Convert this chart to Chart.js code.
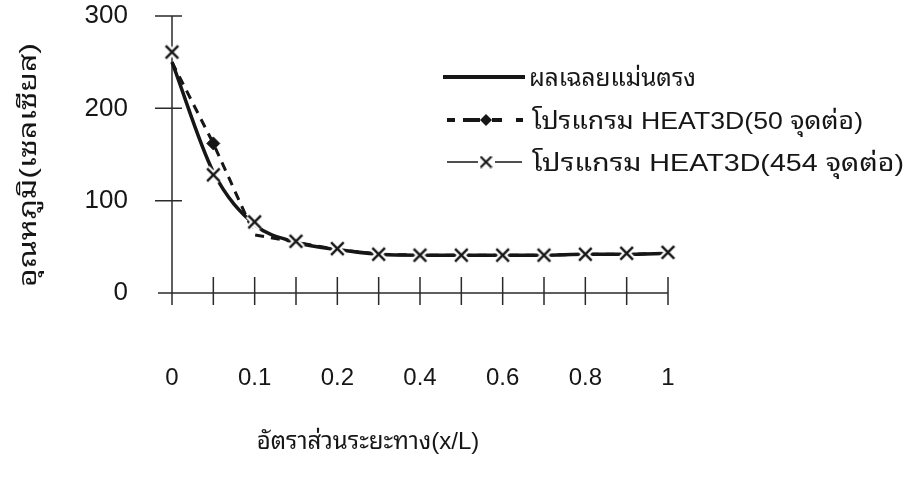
<!DOCTYPE html>
<html>
<head>
<meta charset="utf-8">
<script src="https://cdn.jsdelivr.net/npm/chart.js@4.4.1/dist/chart.umd.min.js"></script>
<style>
  html, body { margin: 0; padding: 0; background: #ffffff; }
  #wrap { width: 915px; height: 480px; position: relative; }
</style>
</head>
<body>
<div id="wrap"><canvas id="c" width="915" height="480"></canvas></div>
<script>
// Distance ratio x/L (category positions along the bar)
const xCategories = ['0', '0.05', '0.1', '0.15', '0.2', '0.3', '0.4', '0.5', '0.6', '0.7', '0.8', '0.9', '1'];
// Labels printed under the axis (every other category)
const xTickLabels = ['0', '', '0.1', '', '0.2', '', '0.4', '', '0.6', '', '0.8', '', '1'];
const yTickValues = [0, 100, 200, 300];

// Temperature (°C)
const exactSolution = [250, 131, 74, 55, 47, 42, 41, 41, 41, 41, 42, 42, 43];
const heat3d50 = [250, 162, 63, 55, 47, 42, 41, 41, 41, 41, 42, 42, 43];
const heat3d454 = [261, 128, 77, 56, 48, 42, 41, 41, 41, 41, 42, 43, 44];

const seriesNames = [
  'ผลเฉลยแม่นตรง',
  'โปรแกรม HEAT3D(50 จุดต่อ)',
  'โปรแกรม HEAT3D(454 จุดต่อ)'
];
const xTitle = 'อัตราส่วนระยะทาง(x/L)';
const yTitle = 'อุณหภูมิ(เซลเซียส)';

const FONT = "'Liberation Sans', Arial, 'Noto Sans Thai Looped', Loma, Garuda, 'Noto Sans Thai', 'Noto Sans', sans-serif";
const INK = '#161616';

// Cross marker with a white halo so lines break around it
function makeCross(half, width, halo) {
  const s = Math.ceil(2 * (half + halo)) + 2;
  const cv = document.createElement('canvas');
  cv.width = s; cv.height = s;
  const g = cv.getContext('2d');
  const c = s / 2;
  const strokeX = () => {
    g.beginPath();
    g.moveTo(c - half, c - half); g.lineTo(c + half, c + half);
    g.moveTo(c + half, c - half); g.lineTo(c - half, c + half);
    g.stroke();
  };
  if (halo > 0) { g.strokeStyle = '#ffffff'; g.lineWidth = width + 2 * halo; strokeX(); }
  g.strokeStyle = INK; g.lineWidth = width; strokeX();
  return cv;
}
const crossMarker = makeCross(6.3, 2.4, 2.2);
const legendCross = makeCross(5.5, 2.2, 0);

// Text drawn in a wide face: stretched along its baseline to a set width
function fillWide(ctx, text, x, y, width) {
  const w = ctx.measureText(text).width;
  ctx.save();
  ctx.translate(x, y);
  ctx.scale(width / w, 1);
  ctx.fillText(text, 0, 0);
  ctx.restore();
}

// Axis lines with ticks that cross the axis
const axesPlugin = {
  id: 'crossAxes',
  beforeDatasetsDraw(chart) {
    const { ctx, scales: { x, y } } = chart;
    const x0 = x.getPixelForValue(0);
    const xEnd = x.getPixelForValue(xCategories.length - 1);
    const y0 = y.getPixelForValue(0);
    const yTop = y.getPixelForValue(300);
    ctx.save();
    ctx.strokeStyle = '#2b2b2b';
    ctx.lineWidth = 1.5;
    ctx.beginPath();
    ctx.moveTo(x0, yTop); ctx.lineTo(x0, y0 + 12);
    ctx.moveTo(x0 - 14, y0); ctx.lineTo(xEnd, y0);
    yTickValues.forEach(v => {
      if (v === 0) return;
      const py = y.getPixelForValue(v);
      ctx.moveTo(x0 - 17, py); ctx.lineTo(x0 + 10, py);
    });
    for (let i = 1; i < xCategories.length; i++) {
      const px = x.getPixelForValue(i);
      ctx.moveTo(px, y0 - 16); ctx.lineTo(px, y0 + 12);
    }
    ctx.stroke();
    ctx.restore();
  }
};

// Axis titles and the legend block
const textPlugin = {
  id: 'titlesAndLegend',
  afterDraw(chart) {
    const { ctx } = chart;
    ctx.save();
    ctx.fillStyle = INK;
    ctx.textBaseline = 'middle';
    ctx.textAlign = 'center';
    ctx.font = '24px ' + FONT;
    ctx.fillText(xTitle, 368, 442);
    ctx.save();
    ctx.translate(29, 165);
    ctx.rotate(-Math.PI / 2);
    fillWide(ctx, yTitle, 0, 0, 244);
    ctx.restore();

    // legend samples
    const rows = [77, 120, 162];
    ctx.strokeStyle = INK;
    ctx.fillStyle = INK;
    // solid
    ctx.lineWidth = 4;
    ctx.beginPath(); ctx.moveTo(443, rows[0]); ctx.lineTo(525, rows[0]); ctx.stroke();
    // dashed + diamond
    ctx.beginPath();
    [[447, 455], [463, 480], [492, 502], [516, 523]].forEach(([a, b]) => {
      ctx.moveTo(a, rows[1]); ctx.lineTo(b, rows[1]);
    });
    ctx.stroke();
    ctx.beginPath();
    ctx.moveTo(486, rows[1] - 6); ctx.lineTo(492, rows[1]); ctx.lineTo(486, rows[1] + 6); ctx.lineTo(480, rows[1]);
    ctx.closePath(); ctx.fill();
    // thin line + cross
    ctx.lineWidth = 1.3;
    ctx.beginPath();
    ctx.moveTo(447, rows[2]); ctx.lineTo(478, rows[2]);
    ctx.moveTo(495, rows[2]); ctx.lineTo(522, rows[2]);
    ctx.stroke();
    ctx.drawImage(legendCross, 486 - legendCross.width / 2, rows[2] - legendCross.height / 2);

    ctx.textAlign = 'left';
    ctx.font = '24px ' + FONT;
    const textStart = [529, 532, 532];
    const textWidth = [167, 331, 372];
    seriesNames.forEach((name, i) => fillWide(ctx, name, textStart[i], rows[i] + 2, textWidth[i]));
    ctx.restore();
  }
};

new Chart(document.getElementById('c'), {
  type: 'line',
  data: {
    labels: xCategories,
    datasets: [
      {
        label: seriesNames[2],
        data: heat3d454,
        showLine: false,
        pointStyle: crossMarker,
        pointRadius: 7,
        pointHoverRadius: 7,
        order: 0,
        clip: false
      },
      {
        label: seriesNames[1],
        data: heat3d50,
        borderColor: INK,
        backgroundColor: INK,
        borderWidth: 3,
        borderDash: [9, 7],
        tension: 0,
        pointStyle: 'rectRot',
        pointRadius: heat3d50.map((v, i) => (i === 1 ? 6.5 : 0)),
        pointBorderWidth: 1,
        order: 1,
        clip: false
      },
      {
        label: seriesNames[0],
        data: exactSolution,
        borderColor: INK,
        borderWidth: 3.5,
        cubicInterpolationMode: 'monotone',
        pointRadius: 0,
        order: 2,
        clip: false
      }
    ]
  },
  options: {
    responsive: false,
    animation: false,
    events: [],
    layout: { padding: { top: 16, right: 247, bottom: 0, left: 0 } },
    plugins: { legend: { display: false }, tooltip: { enabled: false } },
    scales: {
      x: {
        type: 'category',
        offset: false,
        grid: { display: false, drawTicks: true, tickLength: 71 },
        border: { display: false },
        ticks: {
          autoSkip: false,
          maxRotation: 0,
          padding: 0,
          color: INK,
          font: { family: FONT, size: 24 },
          callback: (v, i) => xTickLabels[i]
        },
        afterFit: s => { s.height = 187; }
      },
      y: {
        min: 0,
        max: 300,
        grid: { display: false, drawTicks: true, tickLength: 44 },
        border: { display: false },
        afterBuildTicks: s => { s.ticks = yTickValues.map(v => ({ value: v })); },
        ticks: {
          padding: 0,
          color: INK,
          font: { family: FONT, size: 26 }
        },
        afterFit: s => { s.width = 172; }
      }
    }
  },
  plugins: [axesPlugin, textPlugin]
});
</script>
</body>
</html>
